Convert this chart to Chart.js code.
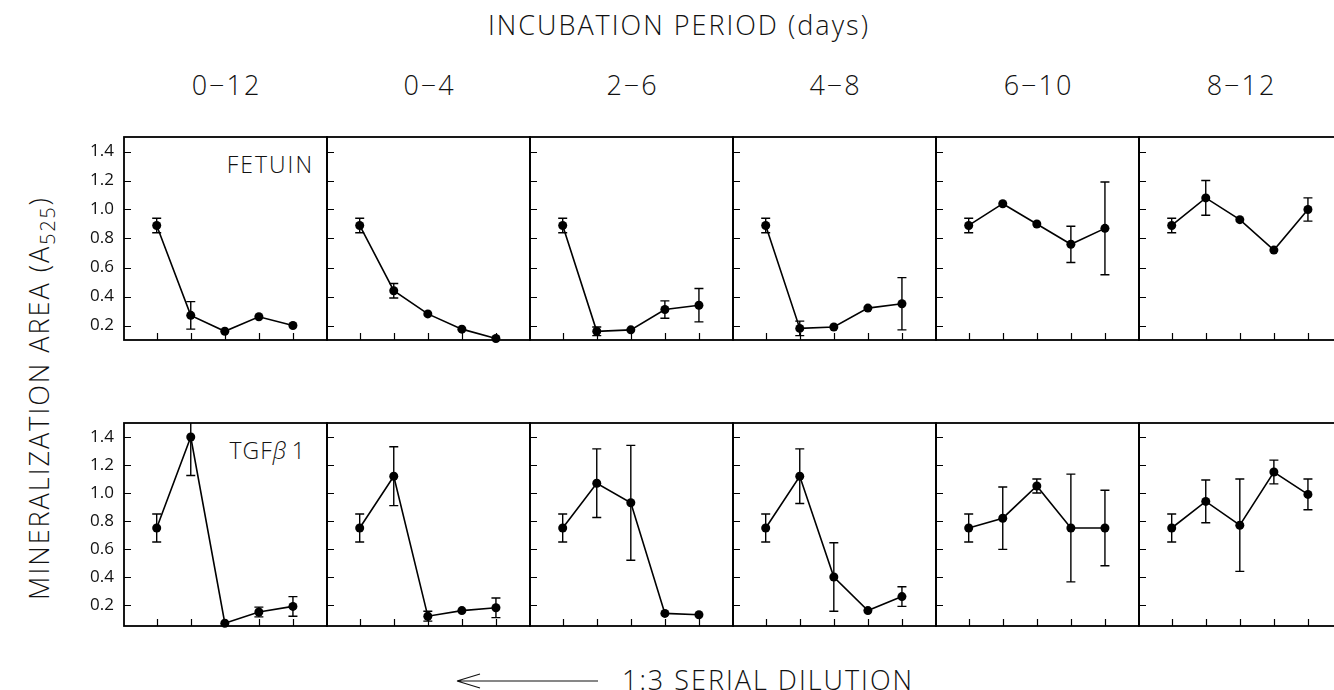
<!DOCTYPE html>
<html>
<head>
<meta charset="utf-8">
<script src="https://cdn.jsdelivr.net/npm/chart.js@4.4.1/dist/chart.umd.min.js"></script>
<style>
  html, body { margin: 0; padding: 0; background: #fff; }
  body { width: 1334px; height: 690px; position: relative; overflow: hidden;
         font-family: 'Open Sans', 'Liberation Sans', sans-serif; font-weight: 300; color: #111; }
  canvas { position: absolute; }
  .txt { position: absolute; white-space: nowrap; line-height: 1; letter-spacing: 2px; }
</style>
</head>
<body>
<div class="txt" style="left:679px; top:24px; font-size:27px; transform:translate(-50%,-50%)">INCUBATION PERIOD (days)</div>
<div class="txt" style="left:41px; top:398px; font-size:27px; transform:translate(-50%,-50%) rotate(-90deg)">MINERALIZATION AREA (A<sub style="font-size:0.72em; vertical-align:-0.3em">525</sub>)</div>
<div class="txt" style="left:314px; top:164px; font-size:23px; transform:translate(-100%,-50%)">FETUIN</div>
<div class="txt" style="left:306px; top:450px; font-size:23px; letter-spacing:1px; transform:translate(-100%,-50%)">TGF<i>β</i>&thinsp;1</div>
<svg style="position:absolute; left:450px; top:670px" width="160" height="22">
  <path d="M7 11 H148 M7 11 L30 4 M7 11 L30 18" stroke="#111" stroke-width="1.2" fill="none"/>
</svg>
<div class="txt" style="left:622px; top:679px; font-size:27px; transform:translate(0,-50%)">1:3 SERIAL DILUTION</div>

<script>
// serial dilution steps on the x axis
const dilution = [1, 2, 3, 4, 5];
const periods = ['0\u221212', '0\u22124', '2\u22126', '4\u22128', '6\u221210', '8\u221212'];
const yTicks = [0.2, 0.4, 0.6, 0.8, 1.0, 1.2, 1.4];

// fetuin, one row per incubation period
const fetuinMean = [
  [0.89, 0.27, 0.16, 0.26, 0.20],
  [0.89, 0.44, 0.28, 0.175, 0.11],
  [0.89, 0.16, 0.17, 0.31, 0.34],
  [0.89, 0.18, 0.19, 0.32, 0.35],
  [0.89, 1.04, 0.90, 0.76, 0.87],
  [0.89, 1.08, 0.93, 0.72, 1.00]
];
const fetuinErr = [
  [0.05, 0.095, 0, 0, 0],
  [0.05, 0.05, 0, 0, 0],
  [0.05, 0.03, 0, 0.06, 0.115],
  [0.05, 0.05, 0, 0, 0.18],
  [0.05, 0, 0, 0.125, 0.32],
  [0.05, 0.12, 0, 0, 0.08]
];

// TGF beta 1
const tgfMean = [
  [0.75, 1.40, 0.07, 0.15, 0.19],
  [0.75, 1.12, 0.12, 0.16, 0.18],
  [0.75, 1.07, 0.93, 0.14, 0.13],
  [0.75, 1.12, 0.40, 0.16, 0.26],
  [0.75, 0.82, 1.05, 0.75, 0.75],
  [0.75, 0.94, 0.77, 1.15, 0.99]
];
const tgfErr = [
  [0.1, 0.275, 0, 0.035, 0.07],
  [0.1, 0.21, 0.035, 0, 0.07],
  [0.1, 0.245, 0.41, 0, 0],
  [0.1, 0.195, 0.245, 0, 0.07],
  [0.1, 0.223, 0.05, 0.385, 0.27],
  [0.1, 0.153, 0.33, 0.085, 0.11]
];

const rowMin = [0.1, 0.05];
const rowTop = [137, 423];
const panelLeft = 124, panelW = 203, panelH = 203, pad = 24, axisW = 40;
const fontFam = "'Open Sans', 'Liberation Sans', sans-serif";

// error bars, inward ticks and the box round each panel
const frame = {
  id: 'frame',
  afterDatasetsDraw(chart) {
    const { ctx, chartArea: a, scales } = chart;
    const ds = chart.data.datasets[0];
    ctx.save();
    ctx.strokeStyle = '#000';
    ctx.lineWidth = 1.4;
    ctx.beginPath();
    ctx.rect(a.left, a.top, a.width, a.height);
    ctx.clip();
    ds.errors.forEach((e, i) => {
      if (!e) return;
      const px = scales.x.getPixelForValue(ds.data[i].x);
      const hi = scales.y.getPixelForValue(ds.data[i].y + e);
      const lo = scales.y.getPixelForValue(ds.data[i].y - e);
      ctx.beginPath();
      ctx.moveTo(px, hi); ctx.lineTo(px, lo);
      ctx.moveTo(px - 4.5, hi); ctx.lineTo(px + 4.5, hi);
      ctx.moveTo(px - 4.5, lo); ctx.lineTo(px + 4.5, lo);
      ctx.stroke();
    });
    ctx.restore();

    ctx.save();
    ctx.strokeStyle = '#000';
    ctx.lineWidth = 1.2;
    ctx.beginPath();
    yTicks.forEach(v => {
      const py = Math.round(scales.y.getPixelForValue(v)) + 0.5;
      ctx.moveTo(a.left, py); ctx.lineTo(a.left + 7, py);
    });
    dilution.forEach(v => {
      const px = Math.round(scales.x.getPixelForValue(v)) + 0.5;
      ctx.moveTo(px, a.bottom); ctx.lineTo(px, a.bottom - 7);
    });
    ctx.stroke();
    ctx.lineWidth = 1.8;
    ctx.strokeRect(a.left, a.top, a.width, a.height);
    ctx.restore();
  }
};

function panel(r, c, mean, err) {
  const cv = document.createElement('canvas');
  const extra = c === 0 ? axisW : 0;
  cv.width = panelW + extra + 2 * pad;
  cv.height = panelH + 2 * pad;
  cv.style.left = (panelLeft + c * panelW - pad - extra) + 'px';
  cv.style.top = (rowTop[r] - pad) + 'px';
  document.body.appendChild(cv);

  const yAxis = {
    type: 'linear', min: rowMin[r], max: 1.5, display: c === 0,
    afterBuildTicks: s => { s.ticks = yTicks.map(v => ({ value: v })); },
    grid: { display: false, drawTicks: false },
    border: { display: false },
    ticks: {
      padding: 10, color: '#111',
      font: { family: fontFam, size: 17, weight: '400' },
      callback: v => v.toFixed(1)
    }
  };
  if (c === 0) yAxis.afterFit = s => { s.width = axisW; };

  new Chart(cv, {
    type: 'line',
    data: {
      datasets: [{
        data: dilution.map((d, i) => ({ x: d, y: mean[i] })),
        errors: err,
        borderColor: '#000',
        borderWidth: 1.6,
        pointRadius: 4.5,
        pointBackgroundColor: '#000',
        pointBorderWidth: 0,
        tension: 0,
        clip: false
      }]
    },
    options: {
      responsive: false,
      animation: false,
      devicePixelRatio: 1,
      events: [],
      layout: { padding: pad },
      plugins: { legend: { display: false }, tooltip: { enabled: false } },
      scales: {
        x: { type: 'linear', min: 0.04, max: 6, display: false },
        y: yAxis
      }
    },
    plugins: [frame]
  });
}

periods.forEach((p, c) => {
  const lab = document.createElement('div');
  lab.className = 'txt';
  lab.textContent = p;
  lab.style.fontSize = '27px';
  lab.style.left = (panelLeft + c * panelW + panelW / 2 + 1) + 'px';
  lab.style.top = '84px';
  lab.style.transform = 'translate(-50%,-50%)';
  document.body.appendChild(lab);

  panel(0, c, fetuinMean[c], fetuinErr[c]);
  panel(1, c, tgfMean[c], tgfErr[c]);
});
</script>
</body>
</html>
